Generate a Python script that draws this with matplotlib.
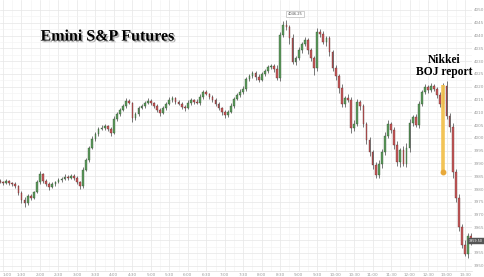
import numpy as np
import matplotlib
matplotlib.use("Agg")
import matplotlib.pyplot as plt
import matplotlib.patheffects as pe

# ---- data ----
closes = [3982.8, 3982.5, 3983.0, 3982.4, 3982.0, 3981.2, 3978.5, 3975.8, 3974.6, 3977.3,
          3976.6, 3978.9, 3982.8, 3985.9, 3983.2, 3982.0, 3980.9, 3982.0, 3982.8, 3983.6,
          3984.0, 3984.8, 3984.4, 3985.2, 3984.4, 3982.8, 3981.3, 3987.5, 3991.4, 3996.1,
          3999.6, 4001.6, 4003.5, 4003.9, 4004.7, 4003.5, 4002.0, 4007.4, 4009.4, 4010.9,
          4012.5, 4014.5, 4013.7, 4007.8, 4009.4, 4011.7, 4012.5, 4013.7, 4014.5, 4013.7,
          4012.5, 4010.9, 4009.8, 4011.7, 4013.3, 4014.8, 4015.6, 4014.1, 4013.3, 4012.1,
          4011.7, 4013.7, 4014.8, 4014.1, 4013.7, 4016.0, 4018.0, 4017.2, 4016.0, 4014.8,
          4013.3, 4011.7, 4010.2, 4009.0, 4010.2, 4012.5, 4015.2, 4016.8, 4018.0, 4019.1,
          4023.0, 4024.2, 4025.4, 4023.8, 4022.7, 4025.0, 4026.2, 4027.7, 4028.1, 4026.9,
          4023.4, 4040.2, 4044.1, 4043.4, 4039.1, 4029.7, 4031.3, 4034.4, 4036.7, 4038.3,
          4034.4, 4031.3, 4027.3, 4041.4, 4040.6, 4037.5, 4039.1, 4033.6, 4027.3, 4024.2,
          4019.5, 4013.3, 4015.6, 4014.8, 4003.9, 4005.5, 4014.1, 4012.5, 4005.5, 3999.2,
          3994.5, 3989.5, 3985.6, 3989.9, 3994.5, 4000.8, 4005.5, 4003.1, 3997.3, 3990.6,
          3995.3, 3989.9, 3996.1, 4005.9, 4008.2, 4005.1, 4013.3, 4018.0, 4019.9, 4018.8,
          4020.3, 4019.1, 4016.8, 4013.3, 4020.3, 4008.6, 4004.3, 3986.7, 3976.6, 3965.2,
          3958.2, 3954.7, 3961.7, 3959.5]
first_open = 3983.0
wick_up = [0.8,0.5,1.0,0.6,0.4,0.9,0.5,0.7,1.2,0.6,0.8,0.5,0.9,1.1,0.5,0.7,0.6,0.9,0.5,0.8,
           0.6,1.0,0.5,0.7,0.6,0.8,0.5,1.2,0.9,0.7,1.0,0.6,0.8,1.1,0.9,0.5,0.7,1.0,0.8,0.6,
           0.9,1.2,0.7,0.5,0.8,0.6,0.9,0.7,1.1,0.6,0.5,0.8,0.7,0.9,0.6,1.0,0.8,0.5,0.7,0.6,
           0.9,1.0,0.7,0.5,1.2,1.0,0.6,0.8,0.5,0.7,0.6,0.9,0.5,0.8,0.7,1.0,0.6,0.9,1.1,1.3,
           0.8,0.9,0.6,0.7,1.0,0.8,0.9,0.7,0.6,0.8,1.5,1.0,1.5,2.0,0.9,1.4,0.8,1.0,0.9,1.3,
           0.7,0.8,0.9,1.5,1.0,1.2,0.8,0.9,0.7,1.0,0.8,1.4,0.9,1.6,1.2,1.5,1.0,0.8,0.9,0.7,
           1.1,0.8,1.0,1.6,1.2,1.5,1.3,0.9,1.0,1.4,0.8,1.6,1.9,1.3,0.9,1.1,1.2,0.8,1.0,0.7,
           1.0,0.9,0.8,1.2,1.2,1.8,1.0,1.5,1.2,1.4,1.0,1.8,1.2,1.0]
wick_dn = [0.6,0.9,0.5,0.8,1.0,0.6,0.9,1.2,1.5,0.7,0.9,0.6,0.5,0.8,1.0,0.7,1.1,0.6,0.8,0.5,
           0.7,0.6,0.9,0.5,0.8,1.0,1.4,0.7,0.6,0.9,0.5,0.8,0.7,0.6,0.9,1.0,1.3,0.6,0.8,0.7,
           0.5,0.9,0.6,1.4,0.8,0.7,0.5,0.9,0.6,0.8,1.0,0.7,1.2,0.6,0.8,0.5,0.7,0.9,0.6,0.8,
           1.1,0.6,0.8,0.9,0.5,0.7,0.8,0.6,0.9,0.7,1.0,0.8,1.2,1.4,0.9,0.6,0.8,0.5,0.7,0.9,
           0.6,0.8,0.7,1.2,1.0,0.6,0.8,0.7,0.9,1.1,0.7,1.2,0.9,1.4,2.5,1.0,1.3,0.9,1.1,0.8,
           1.5,1.2,2.7,1.0,1.3,0.9,1.4,1.6,1.2,1.5,1.8,1.1,1.4,0.9,2.0,1.2,1.0,1.5,1.3,1.6,
           1.4,1.8,1.2,1.1,1.6,1.2,0.9,1.3,1.5,1.4,1.8,1.0,1.3,1.5,1.2,0.8,1.1,1.0,0.9,1.2,
           1.0,0.8,1.3,1.1,1.6,1.4,2.0,2.5,1.8,1.6,1.2,1.0,1.5,1.4]
start_minute = -5          # first candle time, minutes after 1:00
bar_minutes = 5
tick_labels = ["1:00", "1:30", "2:00", "2:30", "3:00", "3:30", "4:00", "4:30", "5:00",
               "5:30", "6:00", "6:30", "7:00", "7:30", "8:00", "8:30", "9:00", "9:30",
               "10:00", "10:30", "11:00", "11:30", "12:00", "12:30", "13:00", "13:30"]
y_ticks = list(range(3950, 4051, 5))
peak_label = "4046.25"
event_index = 144
event_bottom = 3986.7
title = "Emini S&P Futures"
event_text = "Nikkei\nBOJ report"

# ---- derived ----
n = len(closes)
c = np.array(closes)
o = np.concatenate([[first_open], c[:-1]])
hi = np.maximum(o, c) + np.array(wick_up[:n])
lo = np.minimum(o, c) - np.array(wick_dn[:n])
t = start_minute + bar_minutes * np.arange(n)
up = c >= o

fig = plt.figure(figsize=(4.85, 2.77), dpi=100)
ax = fig.add_axes([0.0, 0.022, 0.974, 0.978])
ax.set_facecolor("white")

ax.vlines(t, lo, hi, color="#444444", lw=0.5, zorder=3)
body_h = np.maximum(np.abs(c - o), 0.35)
ax.bar(t[up], body_h[up], bottom=np.minimum(o, c)[up], width=2.8,
       color="#5c9a5c", edgecolor="#2f4f2f", lw=0.25, zorder=4)
ax.bar(t[~up], body_h[~up], bottom=np.minimum(o, c)[~up], width=2.8,
       color="#c8585a", edgecolor="#5a2a2a", lw=0.25, zorder=4)

ax.set_xlim(-4.9, 762)
ax.set_ylim(3948.0, 4053.9)

xt = np.arange(len(tick_labels)) * 30
ax.set_xticks(xt)
ax.set_xticklabels(tick_labels)
ax.set_xticks(xt[:-1] + 15, minor=True)
ax.set_yticks(y_ticks)
# the last-price tag covers the tick label nearest to it, as in the reference
ax.set_yticklabels(["" if abs(v - c[-1]) < 2.5 else str(v) for v in y_ticks])
ax.set_yticks(np.array(y_ticks[:-1]) + 2.5, minor=True)
ax.yaxis.tick_right()
ax.tick_params(axis="both", which="both", length=0, labelsize=3.0, colors="#999999", pad=1.2)
ax.get_xticklabels()[0].set_horizontalalignment("left")
ax.grid(True, which="major", color="#e6e6e6", lw=0.5)
ax.grid(True, which="minor", color="#f2f2f2", lw=0.4)
ax.set_axisbelow(True)
for s in ax.spines.values():
    s.set_visible(False)
ax.spines["bottom"].set_visible(True)
ax.spines["bottom"].set_color("#dddddd")
ax.spines["bottom"].set_linewidth(0.5)

# event annotation (yellow line with dot)
ex = t[event_index]
ax.plot([ex, ex], [hi[event_index] - 1.0, event_bottom], color="#f2c14e", lw=2.6,
        solid_capstyle="butt", zorder=5, alpha=0.95)
ax.plot([ex], [event_bottom], "o", color="#e8a93a", ms=3.2, zorder=6)
ax.text(ex + 2, 4023.3, event_text, ha="center", va="bottom", fontsize=8.3,
        fontweight="bold", family="Liberation Serif", color="black", linespacing=1.05, zorder=7)

# title with shadow
ax.text(0.228, 0.865, title, transform=ax.transAxes, ha="center", va="center",
        fontsize=11.5, fontweight="bold", family="Liberation Serif", color="black",
        path_effects=[pe.SimplePatchShadow(offset=(1.2, -1.2), shadow_rgbFace="#888888", alpha=0.6),
                      pe.Normal()])

# peak label
pk = int(np.argmax(hi))
ax.text(t[pk] + 14, hi[pk] + 1.6, peak_label, ha="center", va="bottom", fontsize=2.6,
        color="#555555", zorder=7,
        bbox=dict(boxstyle="square,pad=0.35", fc="white", ec="#aaaaaa", lw=0.4))

# last price box on the price scale
ax.text(0.995, c[-1], f"{c[-1]:.2f}",
        transform=matplotlib.transforms.blended_transform_factory(fig.transFigure, ax.transData),
        ha="right", va="center", fontsize=2.4, color="white", zorder=8, clip_on=False,
        bbox=dict(boxstyle="square,pad=0.3", fc="#555555", ec="#555555", lw=0.3))

fig.savefig("out.png", dpi=100, facecolor="white")
